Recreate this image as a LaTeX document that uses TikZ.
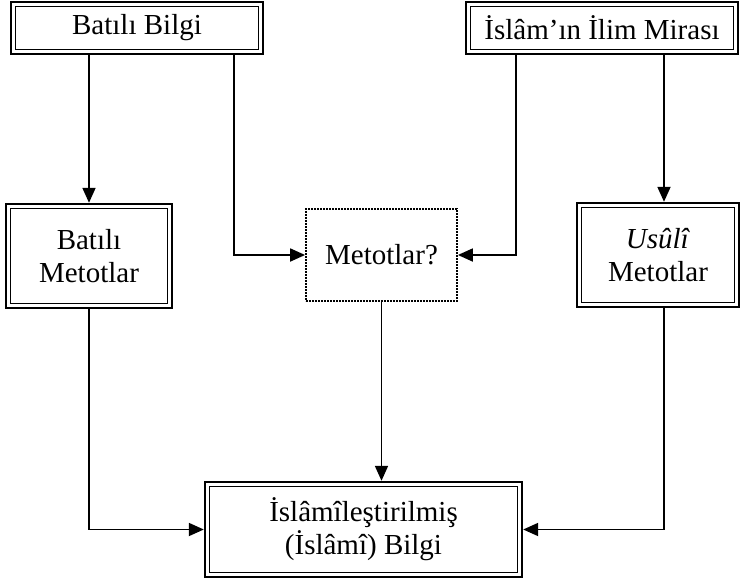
\documentclass[tikz,border=0pt]{standalone}
\usepackage{fontspec}
\setmainfont{Liberation Serif}
\usetikzlibrary{arrows.meta, calc}

\begin{document}
\begin{tikzpicture}[
    x=0.5pt, y=-0.5pt,
    >={Triangle[length=7.5pt, width=6.5pt]},
    every node/.style={font=\fontsize{14.5}{16.5}\selectfont},
    box/.style={draw, line width=1.2pt, align=center, inner sep=0pt},
    qbox/.style={draw, line width=0.9pt, dash pattern=on 0.8pt off 0.7pt, align=center, inner sep=0pt},
    link/.style={->, line width=0.9pt}
]
\useasboundingbox (0,0) rectangle (741,584);

% Boxes
\node[box, minimum width=126pt, minimum height=26pt] (bb) at (137,28) {Batılı Bilgi};
\node[box, minimum width=136pt, minimum height=26pt] (im) at (602,28) {İslâm’ın İlim Mirası};
\node[box, minimum width=83pt, minimum height=52pt] (bm) at (89,256) {Batılı\\Metotlar};
\node[qbox, minimum width=75.5pt, minimum height=46pt] (mq) at (381.5,255) {Metotlar?};
\node[box, minimum width=81pt, minimum height=52pt] (um) at (658,255) {\textit{Usûlî}\\Metotlar};
\node[box, minimum width=158.5pt, minimum height=47.5pt] (ib) at (363.5,529.5) {İslâmîleştirilmiş\\(İslâmî) Bilgi};

% Inner frames
\foreach \n in {bb, im, bm, um, ib}
    \draw[line width=0.5pt] ([shift={(2.7pt,-2.7pt)}]\n.north west) rectangle ([shift={(-2.7pt,2.7pt)}]\n.south east);

% Links
\draw[link] (bm.north |- bb.south) -- (bm.north);
\draw[link] ([xshift=-15pt]bb.south east) |- (mq.west);
\draw[link] ([xshift=25.5pt]im.south west) |- (mq.east);
\draw[link] ([xshift=3pt]um.north |- im.south) -- ([xshift=3pt]um.north);
\draw[link] (bm.south) |- (ib.west);
\draw[link] ([xshift=3pt]um.south) |- (ib.east);
\draw[link] (mq.south) -- (mq.south |- ib.north);

\end{tikzpicture}
\end{document}
